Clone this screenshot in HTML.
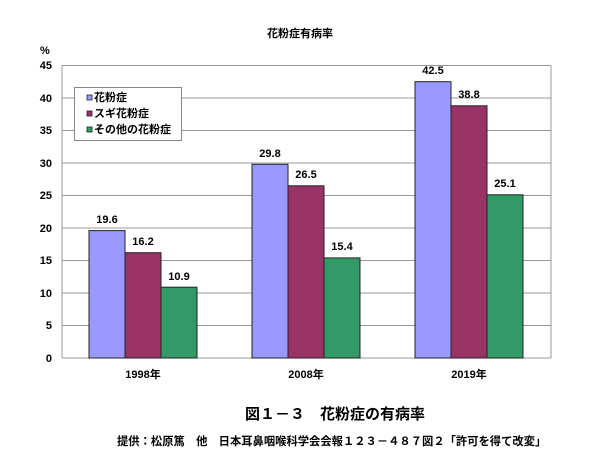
<!DOCTYPE html>
<html><head><meta charset="utf-8"><style>
body{margin:0;background:#fff;}
svg text{font-family:"Liberation Sans","Noto Sans CJK JP",sans-serif;}
</style></head><body>
<svg width="600" height="460" xmlns="http://www.w3.org/2000/svg">
<text x="300" y="37" font-size="11" font-weight="bold" text-anchor="middle">花粉症有病率</text>
<text x="40" y="54" font-size="11" font-weight="bold">%</text>
<g stroke="#999" stroke-width="1">
<line x1="62" y1="65.5" x2="551" y2="65.5"/>
<line x1="62" y1="98" x2="551" y2="98"/>
<line x1="62" y1="130.5" x2="551" y2="130.5"/>
<line x1="62" y1="163" x2="551" y2="163"/>
<line x1="62" y1="195.5" x2="551" y2="195.5"/>
<line x1="62" y1="228" x2="551" y2="228"/>
<line x1="62" y1="260.5" x2="551" y2="260.5"/>
<line x1="62" y1="293" x2="551" y2="293"/>
<line x1="62" y1="325.5" x2="551" y2="325.5"/>
<line x1="62" y1="65.5" x2="62" y2="358"/>
<line x1="551" y1="65.5" x2="551" y2="358"/>
<line x1="62" y1="358" x2="551" y2="358"/>
</g>
<g font-size="11" font-weight="bold" text-anchor="end">
<text x="52" y="69">45</text><text x="52" y="102">40</text><text x="52" y="134">35</text>
<text x="52" y="167">30</text><text x="52" y="199">25</text><text x="52" y="232">20</text>
<text x="52" y="264">15</text><text x="52" y="297">10</text><text x="52" y="329">5</text><text x="52" y="362">0</text>
</g>
<g stroke="#222" stroke-width="1">
<rect x="89" y="230.6" width="36" height="127.4" fill="#9999ff"/>
<rect x="125" y="252.7" width="36" height="105.3" fill="#993366"/>
<rect x="161" y="287.2" width="36" height="70.8" fill="#339966"/>
<rect x="252" y="164.3" width="36" height="193.7" fill="#9999ff"/>
<rect x="288" y="185.8" width="36" height="172.2" fill="#993366"/>
<rect x="324" y="257.9" width="36" height="100.1" fill="#339966"/>
<rect x="415" y="81.7" width="36" height="276.3" fill="#9999ff"/>
<rect x="451" y="105.8" width="36" height="252.2" fill="#993366"/>
<rect x="487" y="194.8" width="36" height="163.2" fill="#339966"/>
</g>
<g font-size="11" font-weight="bold" text-anchor="middle">
<text x="107" y="223">19.6</text><text x="143" y="245">16.2</text><text x="179" y="280">10.9</text>
<text x="270" y="157">29.8</text><text x="306" y="178">26.5</text><text x="342" y="250">15.4</text>
<text x="433" y="74">42.5</text><text x="469" y="98">38.8</text><text x="505" y="187">25.1</text>
<text x="143" y="378">1998年</text><text x="306" y="378">2008年</text><text x="469" y="378">2019年</text>
</g>
<rect x="74.5" y="87.5" width="107" height="53" fill="#fff" stroke="#888"/>
<g stroke="#222" stroke-width="0.8">
<rect x="87" y="95" width="5" height="5" fill="#9999ff"/>
<rect x="87" y="111" width="5" height="5" fill="#993366"/>
<rect x="87" y="127" width="5" height="5" fill="#339966"/>
</g>
<g font-size="11" font-weight="bold">
<text x="94" y="101">花粉症</text>
<text x="94" y="117">スギ花粉症</text>
<text x="94" y="133">その他の花粉症</text>
</g>
<text x="245" y="419" font-size="15" font-weight="bold">図１－３　花粉症の有病率</text>
<text x="117" y="445" font-size="11.3" font-weight="bold">提供：松原篤　他　日本耳鼻咽喉科学会会報１２３－４８７図２「許可を得て改変」</text>
</svg>
</body></html>
